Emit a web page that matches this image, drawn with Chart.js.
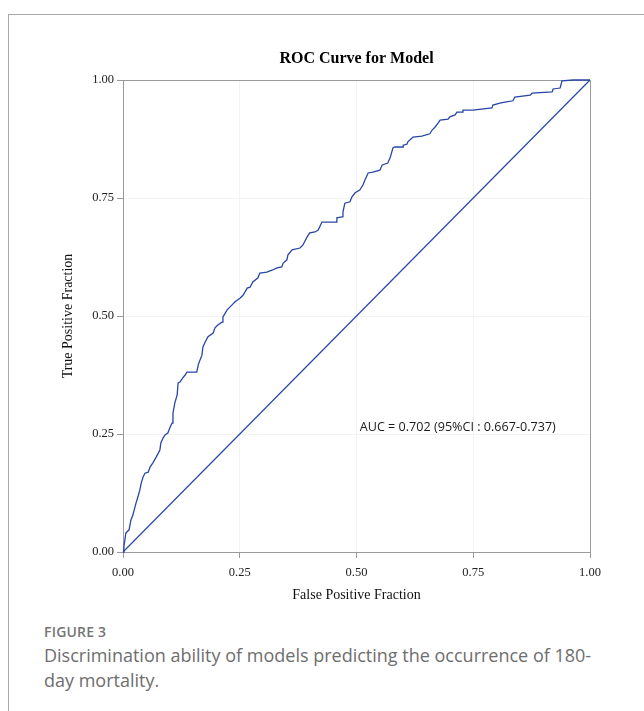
<!DOCTYPE html>
<html>
<head>
<meta charset="utf-8">
<script src="https://cdn.jsdelivr.net/npm/chart.js@4/dist/chart.umd.min.js"></script>
<style>
  html, body { margin: 0; padding: 0; background: #fff; }
  body { width: 644px; height: 711px; position: relative; overflow: hidden; }
  #frame { position: absolute; left: 8px; top: 14px; width: 660px; height: 720px;
           border-top: 1px solid #a9a9a9; border-left: 1px solid #a9a9a9; }
  #c { position: absolute; left: 0; top: 0; }
  #figlabel { position: absolute; left: 44px; top: 622px; font-family: "Open Sans", sans-serif;
              font-size: 14px; font-weight: 600; color: #757575; letter-spacing: 0.2px; }
  #caption { position: absolute; left: 44px; top: 643px; width: 562px; font-family: "Open Sans", sans-serif;
             font-size: 18px; line-height: 25px; color: #6e6e6e; }
</style>
</head>
<body>
<div id="frame"></div>
<canvas id="c" width="644" height="604"></canvas>
<div id="figlabel">FIGURE 3</div>
<div id="caption">Discrimination ability of models predicting the occurrence of 180-day mortality.</div>
<script>
// ROC curve points (False Positive Fraction, True Positive Fraction)
const fpr = [0, 0.002, 0.004, 0.006, 0.013, 0.017, 0.021, 0.028, 0.032, 0.036, 0.039, 0.043, 0.047, 0.054,
  0.058, 0.064, 0.071, 0.079, 0.081, 0.086, 0.090, 0.096, 0.101, 0.105, 0.107, 0.111, 0.116, 0.118, 0.122,
  0.128, 0.133, 0.137, 0.158, 0.161, 0.165, 0.169, 0.171, 0.176, 0.182, 0.193, 0.197, 0.203, 0.212, 0.214,
  0.223, 0.233, 0.240, 0.251, 0.257, 0.266, 0.272, 0.278, 0.289, 0.293, 0.308, 0.319, 0.330, 0.340, 0.343,
  0.351, 0.353, 0.362, 0.379, 0.385, 0.394, 0.400, 0.411, 0.418, 0.426, 0.458, 0.458, 0.469, 0.471, 0.475,
  0.486, 0.490, 0.497, 0.507, 0.514, 0.518, 0.525, 0.535, 0.550, 0.555, 0.567, 0.572, 0.578, 0.582, 0.600,
  0.600, 0.608, 0.610, 0.619, 0.621, 0.640, 0.657, 0.662, 0.668, 0.675, 0.679, 0.696, 0.700, 0.711, 0.715,
  0.726, 0.728, 0.749, 0.790, 0.792, 0.807, 0.818, 0.835, 0.839, 0.872, 0.876, 0.919, 0.921, 0.936, 0.940,
  0.964, 1.000];
const tpr = [0, 0.013, 0.025, 0.040, 0.047, 0.068, 0.078, 0.104, 0.117, 0.131, 0.146, 0.159, 0.167, 0.169,
  0.180, 0.189, 0.201, 0.216, 0.231, 0.242, 0.248, 0.252, 0.265, 0.273, 0.294, 0.316, 0.333, 0.358, 0.360,
  0.369, 0.375, 0.381, 0.381, 0.396, 0.407, 0.417, 0.434, 0.445, 0.456, 0.464, 0.475, 0.481, 0.487, 0.498,
  0.513, 0.523, 0.530, 0.538, 0.544, 0.559, 0.561, 0.572, 0.581, 0.591, 0.593, 0.597, 0.602, 0.604, 0.612,
  0.619, 0.629, 0.640, 0.644, 0.650, 0.667, 0.676, 0.678, 0.682, 0.699, 0.699, 0.708, 0.710, 0.720, 0.739,
  0.742, 0.752, 0.761, 0.767, 0.778, 0.788, 0.803, 0.805, 0.809, 0.820, 0.824, 0.835, 0.856, 0.858, 0.858,
  0.862, 0.864, 0.869, 0.877, 0.879, 0.881, 0.886, 0.894, 0.900, 0.909, 0.915, 0.917, 0.922, 0.926, 0.932,
  0.932, 0.936, 0.936, 0.941, 0.947, 0.951, 0.953, 0.956, 0.964, 0.968, 0.972, 0.975, 0.981, 0.983, 0.998,
  1.000, 1.000];
// Reference (chance) line
const refX = [0, 1];
const refY = [0, 1];
// Axis ticks
const tickValues = [0, 0.25, 0.5, 0.75, 1];
const tickLabels = ['0.00', '0.25', '0.50', '0.75', '1.00'];
// Annotation
const aucText = 'AUC = 0.702 (95%CI : 0.667-0.737)';
const aucPos = [0.507, 0.265];

const lineColor = '#2846a8';
const axisGray = '#9a9a9a';
const serif = '"Liberation Serif", "Times New Roman", serif';

const rocData = fpr.map((x, i) => ({ x: x, y: tpr[i] }));
const refData = refX.map((x, i) => ({ x: x, y: refY[i] }));

const framePlugin = {
  id: 'frame',
  beforeDatasetsDraw(chart) {
    const { ctx, chartArea: a } = chart;
    ctx.save();
    ctx.strokeStyle = axisGray;
    ctx.lineWidth = 1;
    ctx.beginPath();
    ctx.moveTo(a.left, a.top + 0.5);
    ctx.lineTo(a.right + 0.5, a.top + 0.5);
    ctx.lineTo(a.right + 0.5, a.bottom);
    ctx.stroke();
    ctx.restore();
  },
  afterDatasetsDraw(chart) {
    const { ctx, scales } = chart;
    ctx.save();
    ctx.fillStyle = '#1a1a1a';
    ctx.font = '12.6px "Open Sans", sans-serif';
    ctx.textAlign = 'left';
    ctx.textBaseline = 'middle';
    ctx.fillText(aucText, scales.x.getPixelForValue(aucPos[0]), scales.y.getPixelForValue(aucPos[1]));
    ctx.restore();
  }
};

function tickCb(value) {
  const i = tickValues.indexOf(value);
  return i >= 0 ? tickLabels[i] : '';
}

new Chart(document.getElementById('c'), {
  type: 'line',
  data: {
    datasets: [
      { data: rocData, borderColor: lineColor, borderWidth: 1.3, pointRadius: 0, fill: false, tension: 0, clip: 3 },
      { data: refData, borderColor: lineColor, borderWidth: 1.2, pointRadius: 0, fill: false, tension: 0, clip: 3 }
    ]
  },
  options: {
    responsive: false,
    animation: false,
    events: [],
    layout: { padding: { left: 59.6, right: 54, top: 0, bottom: 0 } },
    plugins: {
      legend: { display: false },
      tooltip: { enabled: false },
      title: {
        display: true, fullSize: false, text: 'ROC Curve for Model', color: '#000',
        font: { family: serif, size: 16, weight: 'bold' },
        padding: { top: 49.4, bottom: 11.4 }
      }
    },
    scales: {
      x: {
        type: 'linear', min: 0, max: 1,
        afterBuildTicks(s) { s.ticks = tickValues.map(v => ({ value: v })); },
        afterFit(s) { s.height = 52; },
        ticks: { callback: tickCb, color: '#222', font: { family: serif, size: 12.5 }, padding: 7.5, maxRotation: 0 },
        grid: { color: '#f3f3f3', tickColor: axisGray, tickLength: 6, drawOnChartArea: true },
        border: { color: axisGray, width: 1 },
        title: { display: true, text: 'False Positive Fraction', color: '#111', font: { family: serif, size: 14 }, padding: 0 }
      },
      y: {
        type: 'linear', min: 0, max: 1,
        afterBuildTicks(s) { s.ticks = tickValues.map(v => ({ value: v })); },
        afterFit(s) { s.width = 63.4; },
        ticks: { callback: tickCb, color: '#222', font: { family: serif, size: 12.5 }, padding: 3 },
        grid: { color: '#f3f3f3', tickColor: axisGray, tickLength: 6, drawOnChartArea: true },
        border: { color: axisGray, width: 1 },
        title: { display: true, text: 'True Positive Fraction', color: '#111', font: { family: serif, size: 14 }, padding: 0 }
      }
    }
  },
  plugins: [framePlugin]
});
</script>
</body>
</html>
